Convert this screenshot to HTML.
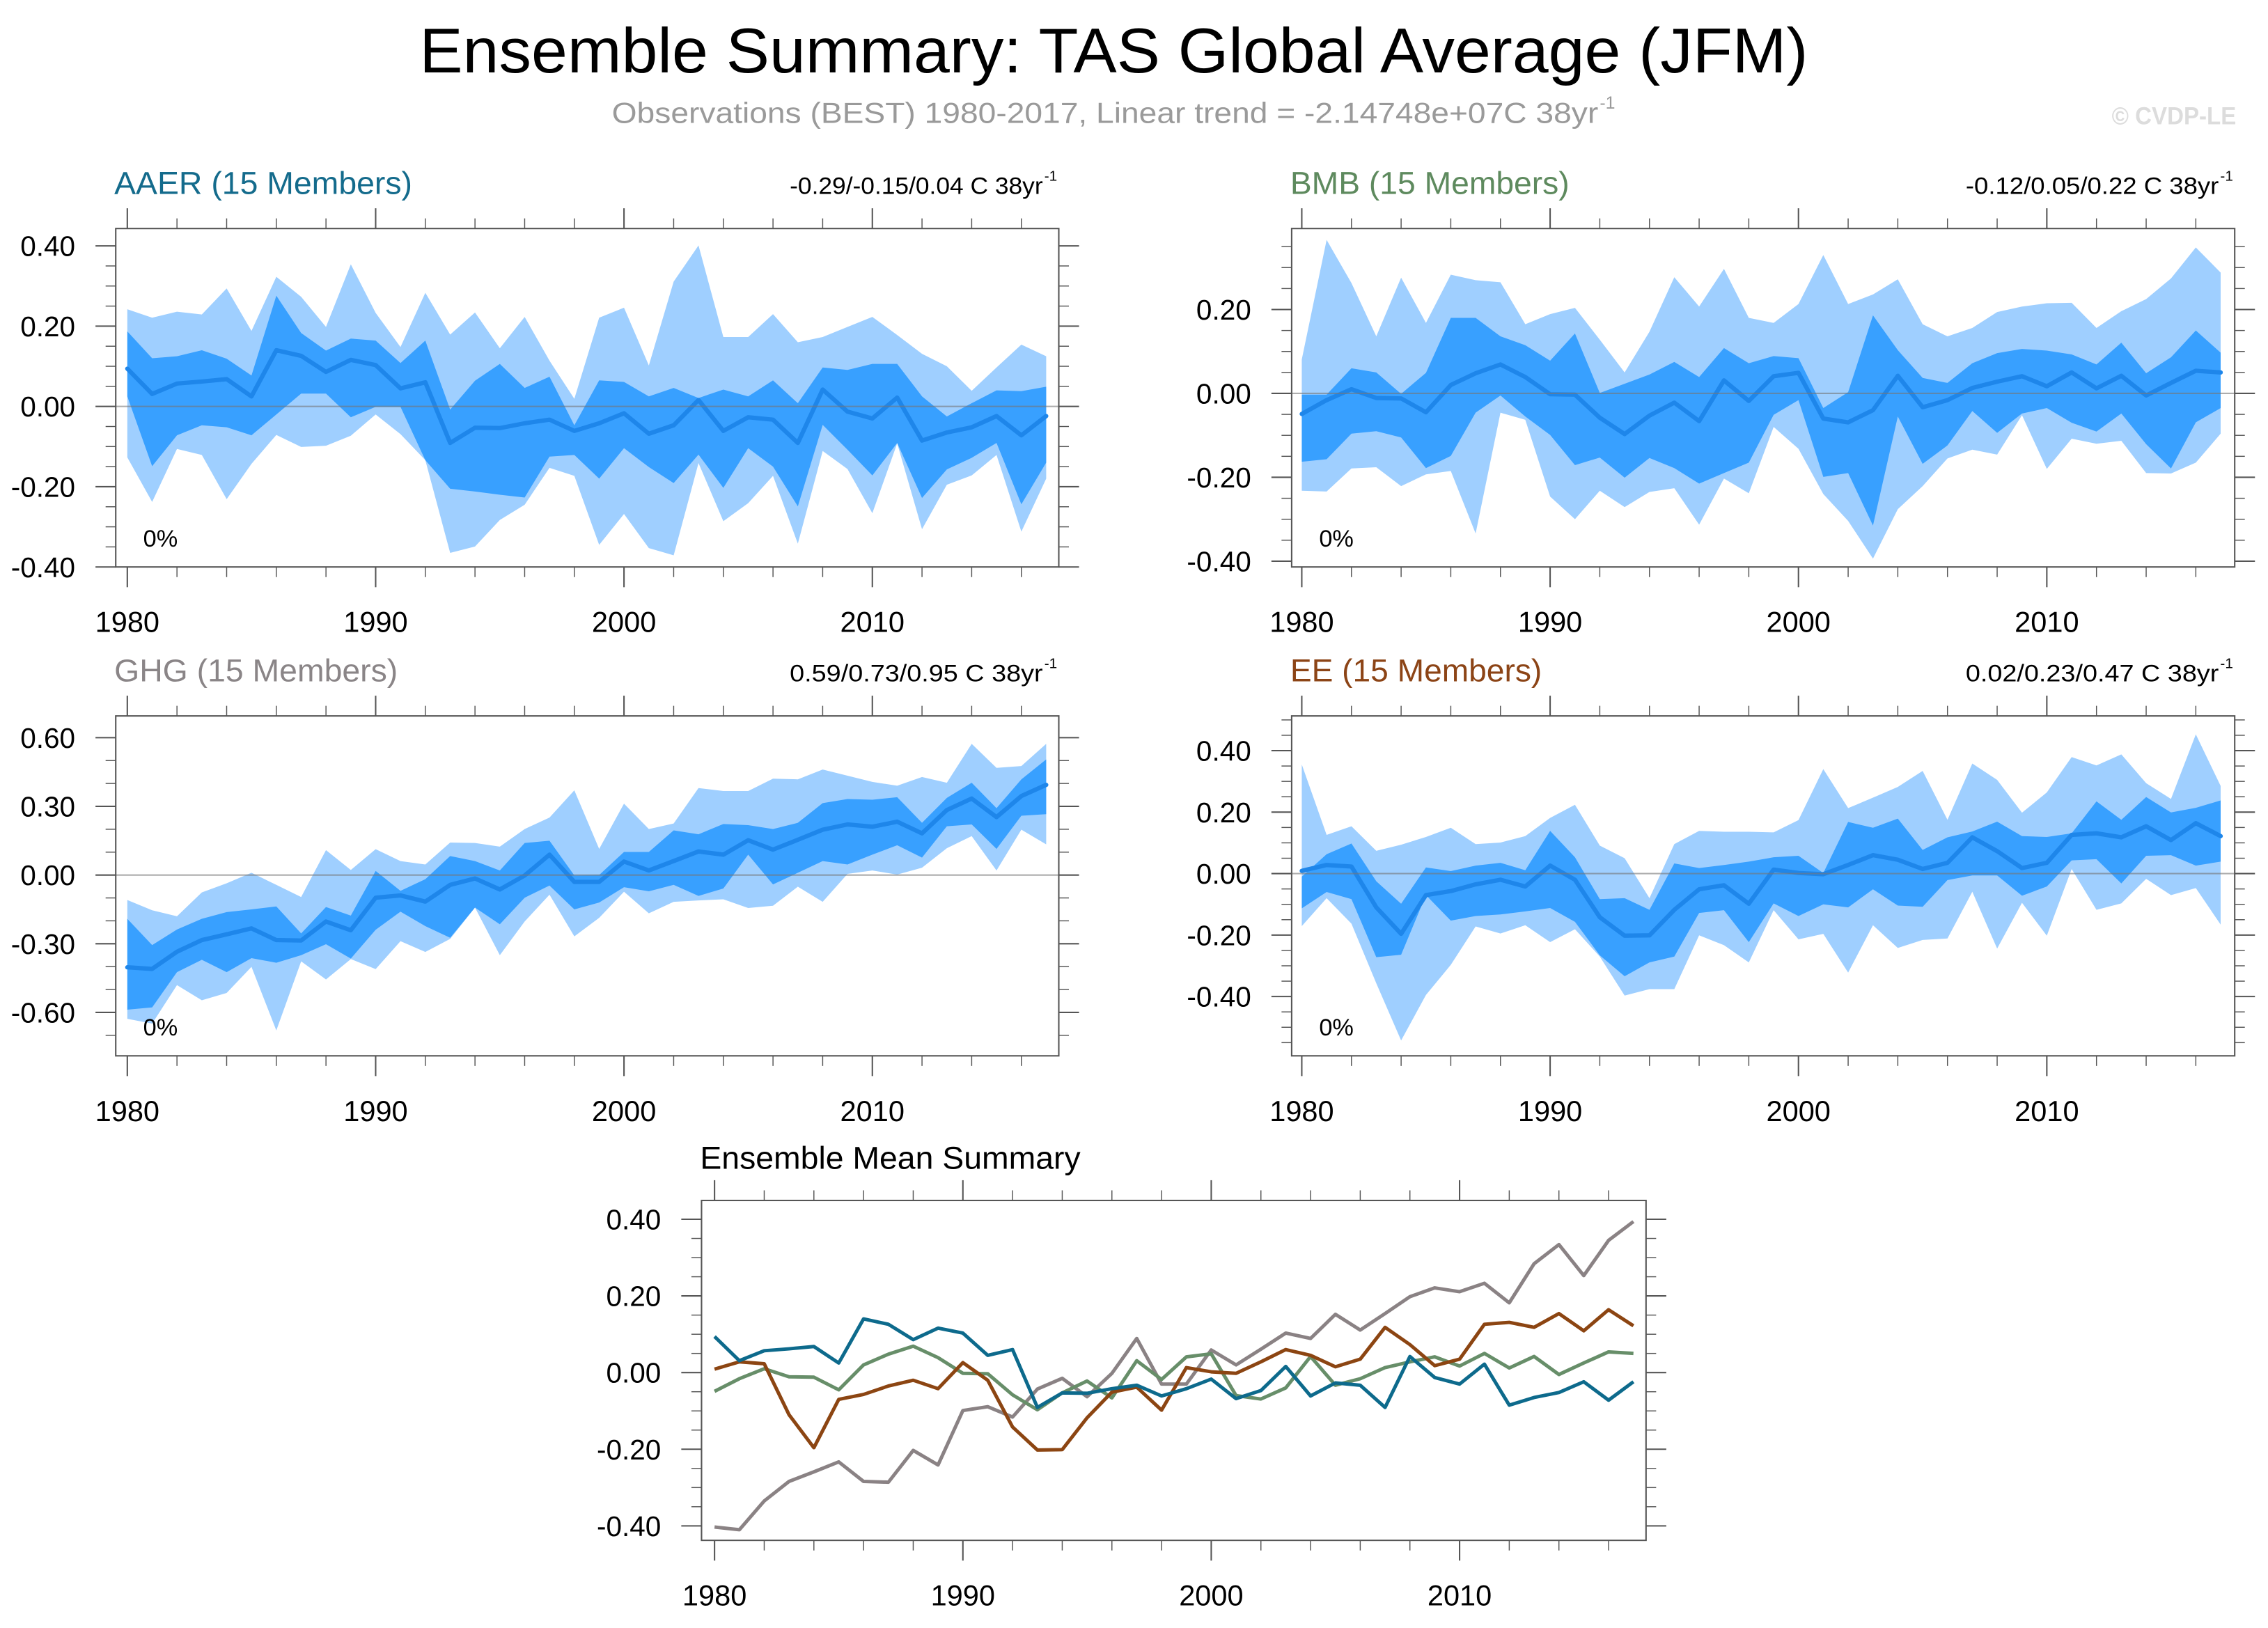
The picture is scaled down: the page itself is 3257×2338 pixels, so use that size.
<!DOCTYPE html>
<html><head><meta charset="utf-8"><title>Ensemble Summary: TAS Global Average (JFM)</title>
<style>html,body{margin:0;padding:0;background:#fff;}svg{display:block;}</style></head>
<body>
<svg id="chart" xmlns="http://www.w3.org/2000/svg" width="3257" height="2338" viewBox="0 0 1568 1125.6" font-family="'Liberation Sans', sans-serif">
<text x="290" y="50" font-size="44" textLength="960" lengthAdjust="spacingAndGlyphs">Ensemble Summary: TAS Global Average (JFM)</text>
<text x="423" y="85" font-size="20" fill="#9a9a9a" textLength="682" lengthAdjust="spacingAndGlyphs">Observations (BEST) 1980-2017, Linear trend = -2.14748e+07C 38yr</text>
<text x="1106" y="75" font-size="12" fill="#9a9a9a">-1</text>
<text x="1460" y="86" font-size="17" font-weight="bold" fill="#dcdcdc" textLength="86" lengthAdjust="spacingAndGlyphs">© CVDP-LE</text>
<g id="panels"></g>
</svg>
<script>
const years = Array.from({length:38},(_,i)=>1980+i);

const aaerMean = [0.094,0.031,0.057,0.062,0.068,0.025,0.140,0.126,0.086,0.116,0.103,0.045,0.060,-0.091,-0.053,-0.054,-0.042,-0.033,-0.061,-0.042,-0.017,-0.068,-0.047,0.016,-0.061,-0.027,-0.033,-0.091,0.042,-0.013,-0.030,0.022,-0.085,-0.065,-0.052,-0.024,-0.072,-0.024];
const aaerMax = [0.242,0.221,0.236,0.229,0.294,0.188,0.323,0.273,0.198,0.354,0.233,0.148,0.283,0.179,0.234,0.145,0.223,0.114,0.019,0.221,0.246,0.102,0.311,0.401,0.173,0.173,0.230,0.160,0.173,0.198,0.223,0.178,0.131,0.100,0.039,0.097,0.154,0.125];
const aaerHi = [0.187,0.120,0.125,0.140,0.119,0.077,0.276,0.183,0.139,0.169,0.164,0.108,0.164,-0.008,0.064,0.106,0.046,0.074,-0.047,0.065,0.061,0.025,0.046,0.021,0.042,0.025,0.065,0.008,0.097,0.091,0.106,0.106,0.025,-0.025,0.008,0.040,0.038,0.049];
const aaerLo = [0.025,-0.149,-0.072,-0.047,-0.052,-0.072,-0.020,0.032,0.032,-0.027,-0.001,-0.001,-0.134,-0.205,-0.212,-0.220,-0.227,-0.125,-0.121,-0.180,-0.104,-0.151,-0.191,-0.120,-0.203,-0.104,-0.150,-0.249,-0.046,-0.108,-0.172,-0.091,-0.228,-0.157,-0.128,-0.091,-0.244,-0.140];
const aaerMin = [-0.127,-0.238,-0.106,-0.121,-0.231,-0.143,-0.071,-0.101,-0.098,-0.073,-0.020,-0.069,-0.134,-0.365,-0.349,-0.283,-0.245,-0.153,-0.173,-0.345,-0.268,-0.353,-0.371,-0.141,-0.286,-0.241,-0.173,-0.342,-0.111,-0.156,-0.266,-0.092,-0.306,-0.195,-0.172,-0.121,-0.312,-0.180];

const bmbMean = [-0.049,-0.016,0.010,-0.011,-0.012,-0.045,0.020,0.048,0.069,0.039,-0.002,-0.003,-0.058,-0.097,-0.053,-0.022,-0.066,0.031,-0.018,0.041,0.049,-0.060,-0.069,-0.040,0.042,-0.033,-0.016,0.013,0.028,0.041,0.017,0.050,0.012,0.042,-0.005,0.025,0.054,0.050];
const bmbMax = [0.081,0.366,0.263,0.136,0.276,0.168,0.283,0.270,0.265,0.165,0.189,0.204,0.128,0.050,0.147,0.277,0.207,0.297,0.180,0.168,0.213,0.330,0.213,0.236,0.272,0.165,0.136,0.156,0.194,0.207,0.215,0.216,0.156,0.196,0.225,0.274,0.348,0.288];
const bmbHi = [-0.003,-0.003,0.060,0.050,-0.001,0.049,0.180,0.180,0.136,0.115,0.078,0.143,0.001,0.023,0.045,0.075,0.039,0.108,0.072,0.089,0.084,-0.035,0.003,0.186,0.103,0.037,0.025,0.072,0.096,0.106,0.102,0.093,0.069,0.121,0.048,0.086,0.150,0.097];
const bmbLo = [-0.163,-0.157,-0.096,-0.090,-0.105,-0.178,-0.149,-0.046,-0.005,-0.055,-0.099,-0.171,-0.153,-0.201,-0.154,-0.178,-0.215,-0.190,-0.165,-0.051,-0.016,-0.199,-0.190,-0.315,-0.055,-0.168,-0.124,-0.042,-0.094,-0.048,-0.035,-0.070,-0.091,-0.048,-0.121,-0.179,-0.069,-0.035];
const bmbMin = [-0.232,-0.234,-0.179,-0.176,-0.221,-0.193,-0.185,-0.334,-0.046,-0.063,-0.246,-0.300,-0.232,-0.271,-0.235,-0.226,-0.313,-0.203,-0.238,-0.080,-0.132,-0.240,-0.304,-0.394,-0.276,-0.221,-0.155,-0.134,-0.146,-0.052,-0.180,-0.108,-0.120,-0.113,-0.190,-0.191,-0.165,-0.096];

const ghgMean = [-0.403,-0.410,-0.335,-0.284,-0.259,-0.233,-0.284,-0.286,-0.203,-0.241,-0.099,-0.089,-0.116,-0.043,-0.015,-0.063,-0.002,0.089,-0.030,-0.030,0.059,0.020,0.061,0.103,0.089,0.152,0.111,0.154,0.198,0.221,0.211,0.233,0.182,0.284,0.334,0.253,0.345,0.394];
const ghgMax = [-0.109,-0.154,-0.180,-0.076,-0.036,0.010,-0.043,-0.096,0.109,0.022,0.113,0.061,0.046,0.142,0.140,0.124,0.201,0.251,0.370,0.114,0.312,0.201,0.225,0.380,0.367,0.367,0.421,0.418,0.461,0.434,0.407,0.390,0.428,0.403,0.573,0.468,0.476,0.573];
const ghgHi = [-0.191,-0.306,-0.238,-0.191,-0.162,-0.150,-0.137,-0.255,-0.140,-0.177,0.018,-0.069,-0.018,0.083,0.061,0.020,0.140,0.150,-0.002,0.000,0.101,0.101,0.195,0.178,0.223,0.218,0.201,0.228,0.314,0.332,0.329,0.340,0.228,0.337,0.403,0.292,0.418,0.505];
const ghgLo = [-0.588,-0.578,-0.424,-0.370,-0.424,-0.363,-0.383,-0.350,-0.302,-0.365,-0.239,-0.160,-0.223,-0.274,-0.142,-0.215,-0.099,-0.046,-0.150,-0.120,-0.053,-0.071,-0.043,-0.091,-0.059,0.089,-0.041,0.010,0.061,0.046,0.089,0.130,0.076,0.213,0.221,0.114,0.259,0.266];
const ghgMin = [-0.628,-0.649,-0.481,-0.547,-0.515,-0.401,-0.679,-0.377,-0.456,-0.367,-0.411,-0.289,-0.336,-0.279,-0.142,-0.350,-0.203,-0.086,-0.268,-0.187,-0.073,-0.167,-0.117,-0.111,-0.106,-0.144,-0.134,-0.051,-0.117,0.005,0.020,0.002,0.032,0.117,0.170,0.020,0.198,0.134];

const eeMean = [0.009,0.028,0.023,-0.110,-0.196,-0.070,-0.057,-0.035,-0.020,-0.042,0.026,-0.020,-0.142,-0.202,-0.201,-0.118,-0.051,-0.038,-0.098,0.013,0.002,-0.002,0.028,0.060,0.045,0.015,0.035,0.118,0.073,0.018,0.035,0.126,0.131,0.118,0.154,0.109,0.164,0.122];
const eeMax = [0.355,0.126,0.154,0.074,0.094,0.119,0.149,0.096,0.101,0.122,0.181,0.224,0.091,0.050,-0.080,0.096,0.139,0.136,0.136,0.134,0.174,0.340,0.213,0.247,0.282,0.334,0.175,0.358,0.305,0.198,0.264,0.379,0.352,0.388,0.294,0.243,0.453,0.285];
const eeHi = [-0.010,0.063,0.098,-0.025,-0.098,0.020,0.008,0.026,0.035,0.011,0.139,0.053,-0.083,-0.080,-0.118,0.033,0.018,0.028,0.039,0.053,0.058,0.002,0.168,0.149,0.179,0.077,0.118,0.137,0.169,0.122,0.119,0.131,0.235,0.175,0.249,0.199,0.214,0.238];
const eeLo = [-0.113,-0.060,-0.083,-0.272,-0.264,-0.070,-0.153,-0.138,-0.133,-0.123,-0.112,-0.157,-0.266,-0.334,-0.289,-0.270,-0.128,-0.119,-0.223,-0.097,-0.138,-0.100,-0.110,-0.051,-0.104,-0.108,-0.021,-0.006,-0.006,-0.072,-0.042,0.043,0.047,-0.032,0.058,0.060,0.026,0.039];
const eeMin = [-0.171,-0.080,-0.163,-0.357,-0.543,-0.395,-0.297,-0.172,-0.195,-0.168,-0.223,-0.181,-0.270,-0.397,-0.376,-0.376,-0.201,-0.233,-0.289,-0.119,-0.214,-0.196,-0.322,-0.168,-0.242,-0.216,-0.211,-0.059,-0.244,-0.095,-0.202,0.015,-0.118,-0.097,-0.017,-0.070,-0.047,-0.166];

const yearTicks = [1980,1990,2000,2010];

const NS = 'http://www.w3.org/2000/svg';
const root = document.getElementById('panels');
function mk(tag, attrs, parent){ const e=document.createElementNS(NS,tag); for(const k in attrs) e.setAttribute(k,attrs[k]); (parent||root).appendChild(e); return e; }

function drawAxes(g, c){
  const xmap = yr => c.xa + (yr-1980)*17.17;
  const ymap = v => c.yz - v*c.ys;
  const vTop = (c.yz - c.y0)/c.ys, vBot = (c.yz - c.y1)/c.ys;
  const n0 = Math.ceil(vBot/c.minor - 1e-6), n1 = Math.floor(vTop/c.minor + 1e-6);
  for(let n=n0;n<=n1;n++){
    const v = n*c.minor; const y = ymap(v);
    const major = Math.abs(Math.round(v/c.major)*c.major - v) < 1e-6;
    const L = major?14:7;
    const t1 = mk('line',{x1:c.x0-L,x2:c.x0,y1:y,y2:y,stroke:'#555','stroke-width':major?1:0.7},g);
    
    
    const t2 = mk('line',{x1:c.x1,x2:c.x1+L,y1:y,y2:y,stroke:'#555','stroke-width':major?1:0.7},g);
    
    
    if(major){
      const lb = mk('text',{x:c.x0-28,y:y+7,'font-size':19.5,'text-anchor':'end'},g);
      lb.textContent = v.toFixed(2).replace('-0.00','0.00');
      
      
    }
  }
  for(let yr=1980; yr<=2017; yr+=2){
    const x = xmap(yr); const major = yr%10===0; const L = major?14:7;
    const a = mk('line',{x1:x,x2:x,y1:c.y0-L,y2:c.y0,stroke:'#555','stroke-width':major?1:0.7},g);
    
    
    const b = mk('line',{x1:x,x2:x,y1:c.y1,y2:c.y1+L,stroke:'#555','stroke-width':major?1:0.7},g);
    
    
  }
  yearTicks.forEach(yr=>{
    const t = mk('text',{x:xmap(yr),y:c.y1+45,'font-size':20,'text-anchor':'middle'},g);
    t.textContent = yr;
    
    
  });
  return {xmap, ymap};
}

function drawPanel(c, mean, mx, hi, lo, mn){
  const g = mk('g',{});
  
  
  const {xmap, ymap} = drawAxes(g, c);
  const clipId = 'clip-'+c.name;
  const cp = mk('clipPath',{id:clipId},g); mk('rect',{x:c.x0,y:c.y0,width:c.x1-c.x0,height:c.y1-c.y0},cp);
  const inner = mk('g',{'clip-path':'url(#'+clipId+')'},g);
  const band = (up, dn, fill, name) => {
    const pts = years.map((yr,i)=>xmap(yr)+','+ymap(up[i])).concat(years.slice().reverse().map((yr,j)=>{const i=years.length-1-j; return xmap(yr)+','+ymap(dn[i]);}));
    const p = mk('polygon',{points:pts.join(' '),fill:fill},inner);
    
    
  };
  band(mx, mn, '#9fcfff', 'range-band-light');
  band(hi, lo, '#38a0ff', 'range-band-dark');
  const ml = mk('polyline',{points:years.map((yr,i)=>xmap(yr)+','+ymap(mean[i])).join(' '),fill:'none',stroke:'#1e86ea','stroke-width':3,'stroke-linejoin':'round','stroke-linecap':'round'},inner);
  
  
  const z = mk('line',{x1:c.x0,x2:c.x1,y1:ymap(0),y2:ymap(0),stroke:'#777','stroke-opacity':0.6,'stroke-width':1},g);
  
  
  const bx = mk('rect',{x:c.x0,y:c.y0,width:c.x1-c.x0,height:c.y1-c.y0,fill:'none',stroke:'#555','stroke-width':1},g);
  
  
  const pc = mk('text',{x:c.x0+19,y:c.y1-14,'font-size':16.5},g);
  pc.textContent='0%';
  
  
  const tt = mk('text',{x:c.x0-1,y:c.y0-24,'font-size':22,fill:c.color,textLength:c.tw,lengthAdjust:'spacingAndGlyphs'},g);
  tt.textContent = c.title;
  
  
  const st = mk('text',{x:c.x1-186,y:c.y0-24,'font-size':16.5,textLength:175,lengthAdjust:'spacingAndGlyphs'},g);
  st.textContent = c.stats;
  
  
  const sp = mk('text',{x:c.x1-10,y:c.y0-33,'font-size':10},g);
  sp.textContent = '-1';
  
  
}

drawPanel({name:'aaer-panel',title:'AAER (15 Members)',tw:206,color:'#146b8c',stats:'-0.29/-0.15/0.04 C 38yr',x0:80,x1:732,y0:158,y1:392,xa:88,yz:281,ys:277.5,major:0.2,minor:0.05}, aaerMean, aaerMax, aaerHi, aaerLo, aaerMin);
drawPanel({name:'bmb-panel',title:'BMB (15 Members)',tw:193,color:'#5e8a5e',stats:'-0.12/0.05/0.22 C 38yr',x0:893,x1:1545,y0:158,y1:392,xa:900,yz:272,ys:290,major:0.2,minor:0.05}, bmbMean, bmbMax, bmbHi, bmbLo, bmbMin);
drawPanel({name:'ghg-panel',title:'GHG (15 Members)',tw:196,color:'#8a8587',stats:'0.59/0.73/0.95 C 38yr',x0:80,x1:732,y0:495,y1:730,xa:88,yz:605,ys:158.3,major:0.3,minor:0.1}, ghgMean, ghgMax, ghgHi, ghgLo, ghgMin);
drawPanel({name:'ee-panel',title:'EE (15 Members)',tw:174,color:'#8c4416',stats:'0.02/0.23/0.47 C 38yr',x0:893,x1:1545,y0:495,y1:730,xa:900,yz:604,ys:212.5,major:0.2,minor:0.05}, eeMean, eeMax, eeHi, eeLo, eeMin);

(function(){
  const c = {name:'ensemble-mean-summary',x0:485,x1:1138,y0:830,y1:1065,xa:494,yz:949,ys:265,major:0.2,minor:0.05};
  const g = mk('g',{});
  
  
  const {xmap, ymap} = drawAxes(g, c);
  const series = [[ghgMean,'#8a8284','ghg-mean-line'],[bmbMean,'#678e69','bmb-mean-line'],[eeMean,'#8c4512','ee-mean-line'],[aaerMean,'#0d6a8c','aaer-mean-line']];
  series.forEach(s=>{
    const l = mk('polyline',{points:years.map((yr,i)=>xmap(yr)+','+ymap(s[0][i])).join(' '),fill:'none',stroke:s[1],'stroke-width':2.4,'stroke-linejoin':'round'},g);
    
    
  });
  const bx = mk('rect',{x:c.x0,y:c.y0,width:c.x1-c.x0,height:c.y1-c.y0,fill:'none',stroke:'#555','stroke-width':1},g);
  
  
  const t = mk('text',{x:484,y:808,'font-size':22,textLength:263,lengthAdjust:'spacingAndGlyphs'},g);
  t.textContent='Ensemble Mean Summary';
  
  
})();
</script>
</body></html>
